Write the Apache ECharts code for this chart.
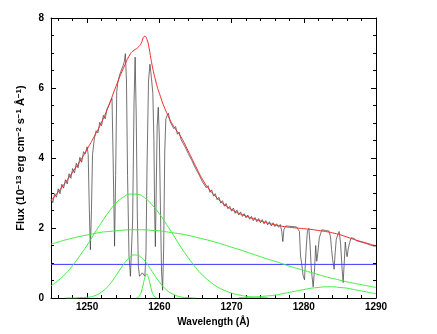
<!DOCTYPE html>
<html>
<head>
<meta charset="utf-8">
<script src="https://cdn.jsdelivr.net/npm/echarts@6/dist/echarts.min.js"></script>
<style>
  html, body { margin: 0; padding: 0; background: #fff; }
  #chart { width: 437px; height: 334px; }
</style>
</head>
<body>
<div id="chart"></div>
<script>
// observed spectrum (wavelength in Å, flux in 1e-13 units)
const specWave = [1245.00,1245.25,1245.50,1245.75,1246.00,1246.25,1246.50,1246.75,1247.00,1247.25,1247.50,1247.75,1248.00,1248.25,1248.50,1248.75,1249.00,1249.25,1249.50,1249.75,1250.00,1250.15,1250.30,1250.45,1250.60,1250.75,1251.00,1251.25,1251.50,1251.75,1252.00,1252.25,1252.50,1252.75,1253.00,1253.25,1253.45,1253.60,1253.80,1253.95,1254.10,1254.25,1254.50,1254.75,1255.00,1255.15,1255.30,1255.45,1255.60,1255.80,1256.00,1256.15,1256.30,1256.50,1256.65,1256.80,1256.95,1257.10,1257.25,1257.45,1257.65,1257.85,1258.00,1258.15,1258.30,1258.50,1258.70,1258.90,1259.10,1259.25,1259.35,1259.45,1259.55,1259.70,1259.85,1260.00,1260.15,1260.30,1260.45,1260.60,1260.75,1260.90,1261.10,1261.25,1261.50,1261.75,1262.00,1262.25,1262.50,1262.75,1263.00,1263.25,1263.50,1263.75,1264.00,1264.25,1264.50,1264.75,1265.00,1265.25,1265.50,1265.75,1266.00,1266.25,1266.50,1266.75,1267.00,1267.25,1267.50,1267.75,1268.00,1268.25,1268.50,1268.75,1269.00,1269.25,1269.50,1269.75,1270.00,1270.25,1270.50,1270.75,1271.00,1271.25,1271.50,1271.75,1272.00,1272.25,1272.50,1272.75,1273.00,1273.25,1273.50,1273.75,1274.00,1274.25,1274.50,1274.75,1275.00,1275.25,1275.50,1275.75,1276.00,1276.25,1276.50,1276.75,1276.95,1277.10,1277.25,1277.50,1277.75,1278.00,1278.25,1278.50,1278.75,1279.00,1279.25,1279.40,1279.55,1279.70,1279.90,1280.10,1280.30,1280.50,1280.70,1280.85,1281.05,1281.30,1281.50,1281.65,1281.80,1281.95,1282.15,1282.35,1282.50,1282.75,1283.00,1283.25,1283.50,1283.70,1283.85,1284.00,1284.20,1284.35,1284.50,1284.70,1284.90,1285.10,1285.30,1285.45,1285.60,1285.75,1285.90,1286.00,1286.15,1286.35,1286.55,1286.75,1287.00,1287.25,1287.50,1287.75,1288.00,1288.25,1288.50,1288.75,1289.00,1289.25,1289.50,1289.75,1290.00];
const specFlux = [2.84,2.72,2.98,2.88,3.12,2.98,3.25,3.14,3.38,3.26,3.55,3.42,3.70,3.57,3.85,3.72,4.02,3.88,4.18,4.12,4.32,4.10,2.60,1.38,2.50,4.10,4.55,4.78,4.72,5.02,4.92,5.22,5.12,5.40,5.50,5.62,5.70,4.00,1.48,3.50,5.90,6.15,6.38,6.42,6.65,6.75,6.98,6.20,3.50,1.20,0.62,0.58,2.20,5.60,6.88,5.20,2.40,0.90,0.62,0.66,0.72,0.68,0.62,1.30,3.80,6.20,6.68,6.30,5.85,4.50,2.50,1.47,2.80,4.90,5.45,4.60,2.60,0.80,0.22,1.40,4.20,5.12,5.22,5.28,5.04,5.08,4.84,4.90,4.68,4.74,4.53,4.58,4.34,4.37,4.13,4.17,3.93,3.95,3.71,3.75,3.52,3.55,3.31,3.36,3.15,3.21,3.02,3.09,2.91,2.98,2.81,2.88,2.71,2.78,2.62,2.70,2.55,2.62,2.48,2.57,2.42,2.51,2.37,2.46,2.33,2.41,2.29,2.37,2.25,2.33,2.21,2.30,2.18,2.27,2.15,2.24,2.12,2.21,2.09,2.18,2.06,2.15,2.04,2.12,2.02,2.10,1.90,1.61,1.95,2.06,2.01,2.05,2.00,2.04,1.99,2.03,2.01,1.90,1.20,1.00,0.65,0.52,1.30,1.92,1.99,1.60,0.80,0.32,0.85,1.50,1.05,1.30,1.72,1.85,1.95,1.90,1.93,1.88,1.91,1.75,1.38,1.10,0.82,1.30,1.68,1.80,1.90,1.55,0.85,0.44,1.00,1.60,1.30,1.18,1.40,1.58,1.72,1.68,1.70,1.64,1.66,1.61,1.63,1.58,1.60,1.55,1.57,1.51,1.53,1.48,1.49];

// total model (red)
const contWave = [1245,1246,1247,1248,1249,1250,1251,1252,1253,1254,1255,1256,1256.5,1257,1257.5,1257.8,1258,1258.3,1258.6,1259,1259.5,1260,1261,1262,1263,1264,1265,1266,1267,1268,1269,1270,1271,1272,1273,1274,1275,1276,1277,1278,1279,1280,1281,1282,1283,1284,1285,1286,1287,1288,1289,1290];
const contFlux = [2.78,3.03,3.30,3.60,3.90,4.25,4.62,5.02,5.50,6.05,6.55,6.98,7.08,7.15,7.28,7.45,7.48,7.38,7.12,6.65,6.20,5.85,5.30,4.90,4.60,4.20,3.78,3.38,3.08,2.86,2.67,2.53,2.42,2.34,2.27,2.20,2.14,2.09,2.05,2.02,2.00,1.98,1.96,1.93,1.90,1.86,1.81,1.74,1.67,1.61,1.55,1.49];

// model components (green) and flat continuum (blue)
const gridWave = [1245,1246,1247,1248,1249,1250,1251,1252,1253,1254,1255,1256,1257,1258,1259,1260,1261,1262,1263,1264,1265,1266,1267,1268,1269,1270,1271,1272,1273,1274,1275,1276,1277,1278,1279,1280,1281,1282,1283,1284,1285,1286,1287,1288,1289,1290];
const broadA = [0.35,0.50,0.69,0.93,1.21,1.51,1.84,2.16,2.46,2.71,2.88,2.97,2.96,2.86,2.66,2.41,2.10,1.78,1.45,1.15,0.88,0.65,0.47,0.32,0.22,0.14,0.09,0.05,0.03,0.02,0.01];
const broadB = [1.54,1.60,1.66,1.71,1.76,1.80,1.84,1.88,1.90,1.92,1.94,1.95,1.95,1.95,1.93,1.92,1.89,1.86,1.83,1.79,1.74,1.69,1.64,1.58,1.52,1.45,1.39,1.32,1.25,1.18,1.11,1.05,0.98,0.91,0.85,0.79,0.73,0.67,0.61,0.56,0.51,0.46,0.42,0.38,0.34,0.30];
const midWave = [1247,1248,1249,1250,1251,1252,1253,1254,1255,1255.5,1256,1256.5,1257,1257.5,1258,1258.5,1259,1260,1261,1262,1263,1264,1265];
const midFlux = [0,0,0.01,0.02,0.06,0.17,0.36,0.64,0.95,1.08,1.18,1.23,1.22,1.16,1.06,0.92,0.76,0.46,0.23,0.10,0.03,0.01,0];
const narrowWave = [1256.75,1257,1257.25,1257.5,1257.75,1258,1258.25,1258.5,1258.75,1259,1259.25,1259.5,1259.75];
const narrowFlux = [0,0.01,0.06,0.17,0.37,0.58,0.68,0.58,0.37,0.17,0.06,0.01,0];
const redWave = [1271,1272,1273,1274,1275,1276,1277,1278,1279,1280,1281,1282,1283,1284,1285,1286,1287,1288,1289,1290];
const redBump = [0.01,0.01,0.02,0.04,0.06,0.08,0.12,0.16,0.20,0.24,0.28,0.30,0.32,0.32,0.30,0.28,0.24,0.20,0.16,0.12];
const flatWave = [1245, 1290];
const flatFlux = [0.96, 0.96];

const xMajor = [1250, 1260, 1270, 1280, 1290];
const xMinor = [1246, 1248, 1252, 1254, 1256, 1258, 1262, 1264, 1266, 1268, 1272, 1274, 1276, 1278, 1282, 1284, 1286, 1288];

function pairs(xs, ys) {
  return ys.map((y, i) => [xs[i], y]);
}

const chart = echarts.init(document.getElementById('chart'), null, { renderer: 'canvas' });

const font = { fontFamily: 'Liberation Sans', fontWeight: 'bold', fontSize: 10, color: '#000' };
const black = { color: '#000', width: 1 };

function xAxisDef(pos, ticks, len, main) {
  return {
    type: 'value', min: 1245, max: 1290, position: pos, offset: 0,
    axisLine: { show: main, onZero: false, lineStyle: black },
    axisTick: { show: true, inside: true, length: len, customValues: ticks, lineStyle: black },
    axisLabel: Object.assign({
      show: main && pos === 'bottom', customValues: ticks, margin: 4,
      formatter: v => String(v)
    }, font),
    splitLine: { show: false },
    name: main && pos === 'bottom' ? 'Wavelength (Å)' : '',
    nameLocation: 'middle', nameGap: 19,
    nameTextStyle: font
  };
}

function yAxisDef(pos) {
  return {
    type: 'value', min: 0, max: 8, interval: 2, position: pos, offset: 0,
    axisLine: { show: true, onZero: false, lineStyle: black },
    axisTick: { show: true, inside: true, length: 5, lineStyle: black },
    minorTick: { show: true, splitNumber: 4, length: 3, lineStyle: black },
    axisLabel: Object.assign({ show: pos === 'left', margin: 7 }, font),
    splitLine: { show: false },
    name: pos === 'left' ? 'Flux (10{s|−13} erg cm{s|−2} s{s|−1} Å{s|−1})' : '',
    nameLocation: 'middle', nameGap: 21,
    nameTextStyle: Object.assign({}, font, {
      fontSize: 11,
      lineHeight: 13,
      rich: { s: { fontFamily: 'Liberation Sans', fontWeight: 'bold', fontSize: 8, verticalAlign: 'top', lineHeight: 13, color: '#000' } }
    })
  };
}

function line(data, color, width, z, smooth) {
  return {
    type: 'line', data: data, showSymbol: false, smooth: smooth, z: z,
    lineStyle: { color: color, width: width }, silent: true
  };
}

chart.setOption({
  animation: false,
  backgroundColor: '#fff',
  grid: { left: 51, right: 61, top: 18, bottom: 36 },
  xAxis: [
    xAxisDef('bottom', xMajor, 5, true),
    xAxisDef('bottom', xMinor, 3, false),
    xAxisDef('top', xMajor, 5, true),
    xAxisDef('top', xMinor, 3, false)
  ],
  yAxis: [yAxisDef('left'), yAxisDef('right')],
  series: [
    line(pairs(specWave, specFlux), '#444444', 0.75, 2, false),
    line(pairs(flatWave, flatFlux), '#3b3bff', 1, 3, false),
    line(pairs(gridWave, broadA), '#3ef03e', 1, 4, true),
    line(pairs(gridWave, broadB), '#3ef03e', 1, 4, true),
    line(pairs(midWave, midFlux), '#3ef03e', 1, 4, true),
    line(pairs(narrowWave, narrowFlux), '#3ef03e', 1, 4, true),
    line(pairs(redWave, redBump), '#3ef03e', 1, 4, true),
    line(pairs(contWave, contFlux), '#f52a2a', 1, 5, true)
  ]
});
</script>
</body>
</html>
